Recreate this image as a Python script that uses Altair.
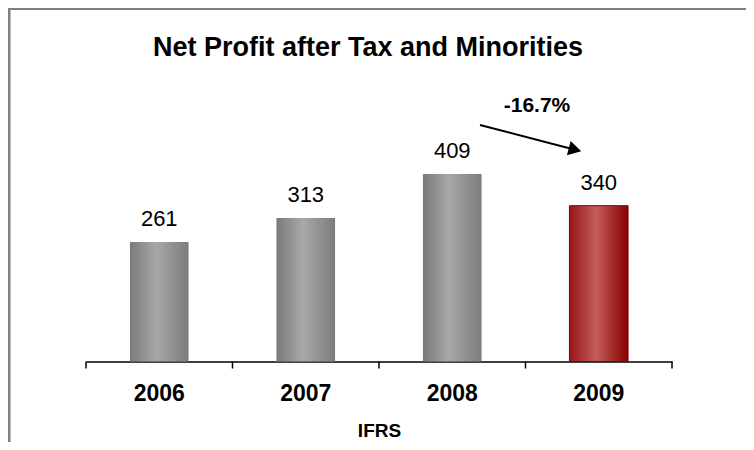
import altair as alt
import pandas as pd

years = ["2006", "2007", "2008", "2009"]
values = [261, 313, 409, 340]
highlight = [False, False, False, True]
title_text = "Net Profit after Tax and Minorities"
change_text = "-16.7%"
axis_title = "IFRS"

FONT = "Liberation Sans, Arial, sans-serif"
W, H = 586, 275

df = pd.DataFrame({"year": years, "value": values, "hl": highlight})
base = alt.Chart(df)

xscale = alt.Scale(domain=years, paddingInner=0, paddingOuter=0)
yscale = alt.Scale(domain=[0, 600], nice=False)

grey_grad = {
    "gradient": "linear", "x1": 0, "y1": 0, "x2": 1, "y2": 0,
    "stops": [
        {"offset": 0, "color": "#7a7a7a"},
        {"offset": 0.45, "color": "#a8a8a8"},
        {"offset": 1, "color": "#7c7c7c"},
    ],
}
red_grad = {
    "gradient": "linear", "x1": 0, "y1": 0, "x2": 1, "y2": 0,
    "stops": [
        {"offset": 0, "color": "#961515"},
        {"offset": 0.45, "color": "#c45c5c"},
        {"offset": 1, "color": "#8a0000"},
    ],
}

x_enc = alt.X(
    "year:N", scale=xscale, sort=years,
    axis=alt.Axis(
        title=axis_title, labelFont=FONT, labelFontSize=23, labelFontWeight="bold",
        labelColor="black", labelAngle=0, labelPadding=21,
        ticks=False, tickSize=0, domainColor="black", domainWidth=1.5,
        titleFont=FONT, titleFontSize=19, titleFontWeight="bold", titleColor="black",
        titlePadding=16,
    ),
)
y_enc = alt.Y("value:Q", scale=yscale, axis=None)

grey_bars = base.transform_filter("!datum.hl").mark_bar(
    width=alt.RelativeBandSize(0.4), color=grey_grad
).encode(x=x_enc, y=y_enc)

red_bars = base.transform_filter("datum.hl").mark_bar(
    width=alt.RelativeBandSize(0.4), color=red_grad, stroke="#8b0000", strokeWidth=1
).encode(x=alt.X("year:N", scale=xscale, sort=years), y=y_enc)

labels = base.mark_text(
    font=FONT, fontSize=22, baseline="alphabetic", dy=-16, color="black"
).encode(x=alt.X("year:N", scale=xscale, sort=years), y=y_enc, text="value:Q")

ticks_start = base.mark_rule(color="black", strokeWidth=1.5).encode(
    x=alt.X("year:N", scale=xscale, sort=years, bandPosition=0),
    y=alt.value(H), y2=alt.value(H + 7),
)
ticks_end = base.transform_filter(f"datum.year == '{years[-1]}'").mark_rule(
    color="black", strokeWidth=1.5
).encode(
    x=alt.X("year:N", scale=xscale, sort=years, bandPosition=1),
    y=alt.value(H), y2=alt.value(H + 7),
)

ann = pd.DataFrame({"t": [title_text], "c": [change_text]})
title = alt.Chart(ann).mark_text(
    font=FONT, fontSize=27, fontWeight="bold", baseline="middle", align="center", color="black"
).encode(x=alt.value(282), y=alt.value(-39), text="t:N")

change = alt.Chart(ann).mark_text(
    font=FONT, fontSize=21, fontWeight="bold", baseline="middle", align="center", color="black"
).encode(x=alt.value(451), y=alt.value(19.5), text="c:N")

arrow_line = alt.Chart(ann).mark_rule(color="black", strokeWidth=2).encode(
    x=alt.value(394), x2=alt.value(490), y=alt.value(38.5), y2=alt.value(63.5)
)
arrow_head = alt.Chart(ann).mark_point(
    shape="triangle-right", filled=True, color="black", size=220, angle=14.7, opacity=1
).encode(x=alt.value(489), y=alt.value(63.2))

frame_left = alt.Chart(ann).mark_rule(color="#808080", strokeWidth=3).encode(
    x=alt.value(-77), y=alt.value(-80), y2=alt.value(380)
)
frame_top = alt.Chart(ann).mark_rule(color="#808080", strokeWidth=3).encode(
    x=alt.value(-80), x2=alt.value(680), y=alt.value(-78)
)

chart = alt.layer(
    frame_left, frame_top, grey_bars, red_bars, labels, ticks_start, ticks_end,
    title, change, arrow_line, arrow_head,
).properties(
    width=W, height=H,
    autosize=alt.AutoSizeParams(type="none"),
    padding={"left": 78, "top": 78.5, "right": 74, "bottom": 80},
    background="white",
).configure_view(stroke=None)

chart.save("out.html", embed_options={"renderer": "svg", "actions": False})
